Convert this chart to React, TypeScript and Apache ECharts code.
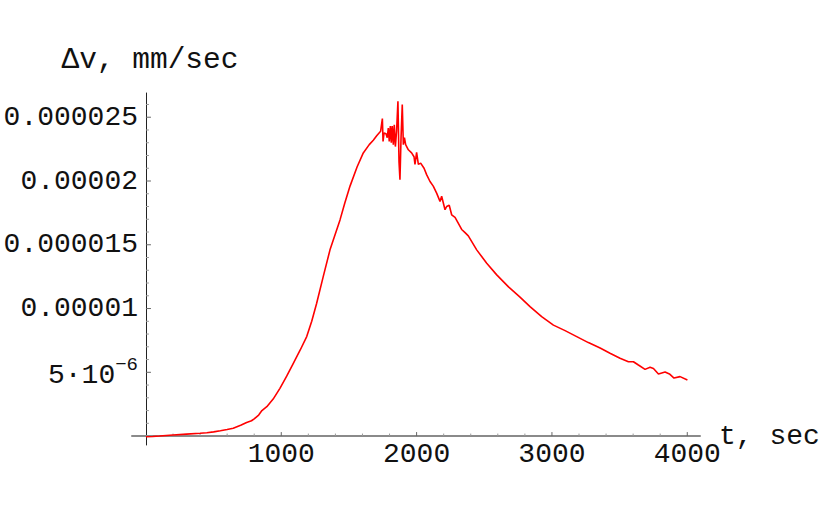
import React, { useEffect, useRef } from "react";
import * as echarts from "echarts";

// time, sec
const T = [
  0, 50, 100, 200, 300, 400, 450, 500, 550, 600, 645, 700, 744, 780, 800, 833, 857, 893, 940, 990,
  1040, 1089, 1140, 1188, 1225, 1261, 1310, 1360, 1434, 1470, 1508, 1560, 1606, 1650, 1680, 1705, 1734,
  1747, 1752, 1759, 1774, 1783, 1791, 1798, 1806, 1813, 1820, 1828, 1835, 1843, 1852, 1862, 1870, 1877,
  1885, 1894, 1902, 1910, 1919, 1939, 1963, 1981, 1988, 2000, 2013, 2030, 2055, 2074, 2099, 2123, 2148,
  2173, 2185, 2197, 2210, 2222, 2241, 2259, 2284, 2333, 2358, 2382, 2444, 2518, 2592, 2679, 2764, 2838,
  2924, 3011, 3097, 3183, 3269, 3356, 3429, 3503, 3565, 3602, 3639, 3688, 3725, 3750, 3787, 3836, 3868,
  3902, 3947, 4001,
];
// Δv in units of 1e-6 mm/sec
const V = [
  -0.05, -0.03, 0.0, 0.08, 0.15, 0.22, 0.26, 0.33, 0.42, 0.52, 0.62, 0.85, 1.07, 1.2, 1.35, 1.65, 2.0, 2.3, 2.9, 3.74,
  4.7, 5.7, 6.75, 7.8, 9.0, 10.4, 12.5, 14.6, 16.95, 18.3, 19.6, 21.1, 22.2, 22.85, 23.2, 23.55, 23.9,
  24.9, 23.1, 23.76, 23.7, 23.4, 24.15, 23.1, 24.3, 23.0, 24.3, 22.85, 24.4, 22.7, 23.9, 26.25, 21.5, 20.1,
  23.4, 26.0, 22.85, 23.4, 22.85, 22.45, 22.2, 21.9, 21.3, 22.25, 21.3, 21.4, 21.0, 20.5, 19.96, 19.6, 19.05,
  18.4, 18.8, 18.3, 17.75, 18.0, 18.1, 17.35, 17.15, 16.2, 15.95, 15.7, 14.6, 13.55, 12.64, 11.7, 10.9, 10.15,
  9.36, 8.7, 8.27, 7.8, 7.33, 6.9, 6.5, 6.1, 5.83, 5.83, 5.57, 5.23, 5.4, 5.3, 4.87, 5.02, 4.87,
  4.55, 4.66, 4.4,
];

const X_MAJOR = [1000, 2000, 3000, 4000];
const X_LABELS = ["1000", "2000", "3000", "4000"];
const X_MINOR = [200, 400, 600, 800, 1200, 1400, 1600, 1800, 2200, 2400, 2600, 2800, 3200, 3400, 3600, 3800];
const Y_MAJOR = [5, 10, 15, 20, 25];
const Y_LABELS = ["5·10^−6", "0.00001", "0.000015", "0.00002", "0.000025"];
const Y_MINOR = [1, 2, 3, 4, 6, 7, 8, 9, 11, 12, 13, 14, 16, 17, 18, 19, 21, 22, 23, 24, 26];

const X_NAME = "t, sec";
const Y_NAME = "Δv, mm/sec";

const FONT = "'Liberation Mono', 'DejaVu Sans Mono', monospace";

function tickSeries(values: number[], dir: "x" | "y", len: number, color: string) {
  return {
    type: "custom" as const,
    coordinateSystem: "cartesian2d",
    xAxisIndex: 0,
    yAxisIndex: 0,
    silent: true,
    clip: false,
    z: 5,
    data: values.map((v) => (dir === "x" ? [v, 0] : [0, v])),
    renderItem: (_params: any, api: any) => {
      const p = api.coord([api.value(0), api.value(1)]);
      const shape =
        dir === "x"
          ? { x1: p[0], y1: p[1], x2: p[0], y2: p[1] - len }
          : { x1: p[0], y1: p[1], x2: p[0] + len, y2: p[1] };
      return { type: "line", shape, style: { stroke: color, lineWidth: 1, fill: null } };
    },
  };
}

export default function App() {
  const ref = useRef<HTMLDivElement>(null);
  useEffect(() => {
    if (!ref.current) return;
    const chart = echarts.init(ref.current, null, { renderer: "svg" });
    const xMin = -103, xMax = 4094, yMin = -0.7, yMax = 26.9;
    const data = T.map((t, i) => [t, V[i]]);
    chart.setOption({
      animation: false,
      backgroundColor: "#ffffff",
      grid: { left: 132, right: 130, top: 93, bottom: 68, outerBoundsMode: "none", containLabel: false },
      xAxis: {
        type: "value",
        min: xMin,
        max: xMax,
        position: "bottom",
        splitLine: { show: false },
        name: X_NAME,
        nameLocation: "end",
        nameGap: 19,
        nameMoveOverlap: false,
        nameTextStyle: { fontFamily: FONT, fontSize: 28, color: "#111", align: "left", verticalAlign: "middle" },
        axisLine: { show: true, onZero: true, lineStyle: { color: "#8a8a8a", width: 2 } },
        axisTick: { show: false },
        axisLabel: {
          show: true,
          customValues: X_MAJOR,
          margin: -5,
          fontFamily: FONT,
          fontSize: 28,
          color: "#111",
          formatter: (v: number) => {
            const i = X_MAJOR.indexOf(Math.round(v));
            return i >= 0 ? X_LABELS[i] : "";
          },
        },
      },
      yAxis: {
        type: "value",
        min: yMin,
        max: yMax,
        position: "left",
        splitLine: { show: false },
        name: Y_NAME,
        nameLocation: "end",
        nameGap: 33,
        nameMoveOverlap: false,
        nameTextStyle: { fontFamily: FONT, fontSize: 29.5, color: "#111", align: "center", verticalAlign: "middle", padding: [0, 0, 0, 8] },
        axisLine: { show: true, onZero: true, lineStyle: { color: "#222", width: 1 } },
        axisTick: { show: false },
        axisLabel: {
          show: true,
          customValues: Y_MAJOR,
          margin: -6,
          fontFamily: FONT,
          fontSize: 28,
          color: "#111",
          formatter: (v: number) => {
            const i = Y_MAJOR.indexOf(Math.round(v));
            if (i < 0) return "";
            const s = Y_LABELS[i];
            const k = s.indexOf("^");
            if (k < 0) return s;
            return "{b|" + s.slice(0, k) + "}{s|" + s.slice(k + 1) + "}";
          },
          rich: {
            b: { fontFamily: FONT, fontSize: 28, color: "#111", verticalAlign: "bottom" },
            s: { fontFamily: FONT, fontSize: 19, color: "#111", padding: [0, 0, 15, 0], verticalAlign: "bottom" },
          },
        },
      },
      series: [
        tickSeries(X_MINOR, "x", 2.5, "#999"),
        tickSeries(X_MAJOR, "x", 4, "#666"),
        tickSeries(Y_MINOR, "y", 3, "#999"),
        tickSeries(Y_MAJOR, "y", 5, "#666"),
        {
          type: "line",
          xAxisIndex: 0,
          yAxisIndex: 0,
          data,
          showSymbol: false,
          symbol: "none",
          lineStyle: { color: "#ff0000", width: 1.6 },
          silent: true,
          z: 10,
        },
      ],
    });
    return () => chart.dispose();
  }, []);
  return (
    <div
      ref={ref}
      style={{ position: "fixed", left: 0, top: 0, width: 830, height: 513, background: "#fff" }}
    />
  );
}
